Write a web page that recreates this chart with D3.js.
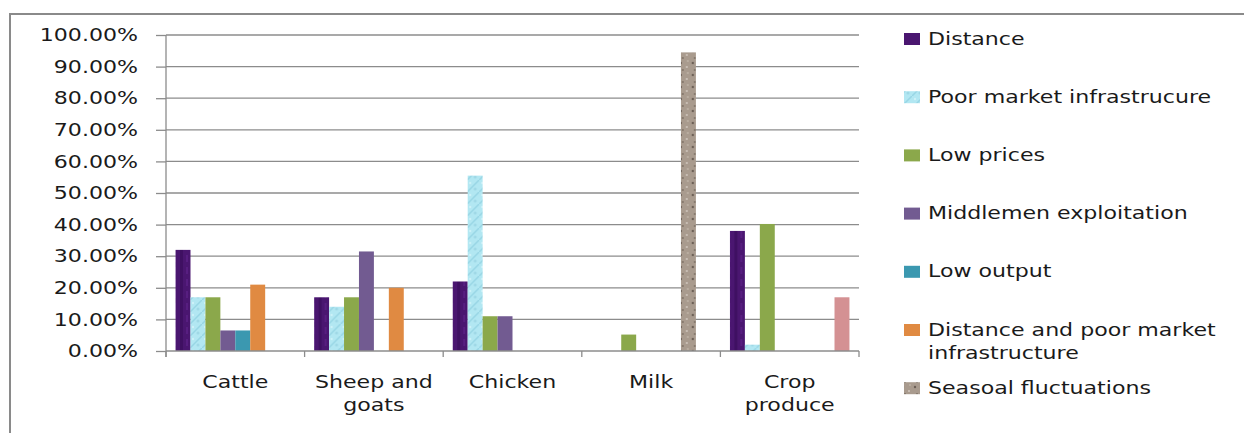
<!DOCTYPE html>
<html><head><meta charset="utf-8">
<script src="https://cdn.jsdelivr.net/npm/d3@7"></script>
<style>
html,body{margin:0;padding:0;background:#fff;}
svg{display:block;}
text{font-family:"DejaVu Sans",Verdana,sans-serif;fill:#1a1a1a;}
</style></head>
<body><svg id="c" width="1244" height="433"></svg>
<script>
// ---- data ----
const categories = ["Cattle", "Sheep and goats", "Chicken", "Milk", "Crop produce"];
const seriesNames = ["Distance", "Poor market infrastrucure", "Low prices", "Middlemen exploitation",
  "Low output", "Distance and poor market infrastructure", "Seasoal fluctuations", "Other"];
const distance      = [0.32, 0.17, 0.22, 0,    0.38];
const poorMarket    = [0.17, 0.14, 0.555, 0,   0.02];
const lowPrices     = [0.17, 0.17, 0.11, 0.052, 0.402];
const middlemen     = [0.065, 0.315, 0.11, 0,  0];
const lowOutput     = [0.065, 0,    0,    0,   0];
const distAndPoor   = [0.21, 0.20, 0,    0,    0];
const seasonal      = [0,    0,    0,    0.945, 0];
const other         = [0,    0,    0,    0,    0.17];
const seriesValues = [distance, poorMarket, lowPrices, middlemen, lowOutput, distAndPoor, seasonal, other];
const yTicks = [0, 0.1, 0.2, 0.3, 0.4, 0.5, 0.6, 0.7, 0.8, 0.9, 1.0];
const legendShown = 7;

// ---- layout ----
const SX = 1.3;          // horizontal text stretch of the original rendering
const FS = 17;
const svg = d3.select("#c");
const plot = {left: 166, right: 859, top: 35, bottom: 351};

// patterns
const defs = svg.append("defs");
function pat(id, base, draw) {
  const p = defs.append("pattern").attr("id", id).attr("patternUnits", "userSpaceOnUse")
    .attr("width", 12).attr("height", 12);
  p.append("rect").attr("width", 12).attr("height", 12).attr("fill", base);
  draw(p);
}
pat("pDist", "#4a1670", p => {
  p.append("rect").attr("x", 2).attr("y", 0).attr("width", 3).attr("height", 12).attr("fill", "#3c0f5f").attr("opacity", 0.8);
  p.append("rect").attr("x", 8).attr("y", 3).attr("width", 2).attr("height", 7).attr("fill", "#5a2184").attr("opacity", 0.8);
});
pat("pPoor", "#b2e7f2", p => {
  p.append("path").attr("d", "M0,12 L12,0").attr("stroke", "#98d6e5").attr("stroke-width", 1.5);
  p.append("circle").attr("cx", 8).attr("cy", 9).attr("r", 1.5).attr("fill", "#9fd8e6");
  p.append("circle").attr("cx", 3).attr("cy", 3).attr("r", 1.2).attr("fill", "#cdf2f9");
});
pat("pSeas", "#a99b8e", p => {
  p.append("circle").attr("cx", 3).attr("cy", 3).attr("r", 1.2).attr("fill", "#6b5e54");
  p.append("circle").attr("cx", 9).attr("cy", 7).attr("r", 1).attr("fill", "#d2c8be");
  p.append("circle").attr("cx", 5).attr("cy", 10).attr("r", 1).attr("fill", "#7d7065");
  p.append("circle").attr("cx", 10).attr("cy", 1).attr("r", 0.8).attr("fill", "#cfc4b8");
});
const fills = ["url(#pDist)", "url(#pPoor)", "#8ba84b", "#725b91", "#3b98b0", "#e08a42", "url(#pSeas)", "#d49193"];
const swatchFills = ["#4a1670", "url(#pPoor)", "#8ba84b", "#725b91", "#3b98b0", "#e08a42", "url(#pSeas)", "#d49193"];

// frame
svg.append("path").attr("d", "M10,433 L10,14 L1244,14").attr("fill", "none")
  .attr("stroke", "#8a8a8a").attr("stroke-width", 2);

// scales
const x0 = d3.scaleBand().domain(categories).range([plot.left, plot.right]).paddingInner(0).paddingOuter(0);
const x1 = d3.scaleBand().domain(d3.range(seriesNames.length)).range([0, x0.bandwidth()])
  .paddingInner(0).paddingOuter(0.64);
const y = d3.scaleLinear().domain([0, 1]).range([plot.bottom, plot.top]);

// gridlines
svg.append("g").selectAll("line").data(yTicks.filter(t => t > 0)).join("line")
  .attr("x1", plot.left).attr("x2", plot.right).attr("y1", d => y(d)).attr("y2", d => y(d))
  .attr("stroke", "#8c8c8c").attr("stroke-width", 1.3);

// y axis
const yAxis = svg.append("g").attr("transform", `translate(${plot.left},0)`)
  .call(d3.axisLeft(y).tickValues(yTicks).tickFormat(d3.format(".2%")).tickSize(10).tickPadding(0));
yAxis.select(".domain").remove();
yAxis.selectAll("line").attr("stroke", "#8c8c8c").attr("stroke-width", 1.3);
yAxis.selectAll("text").each(function(d) {
  const t = d3.select(this);
  t.attr("x", null).attr("dy", null).attr("fill", "#1a1a1a")
    .attr("font-size", FS).attr("font-family", "DejaVu Sans")
    .attr("dominant-baseline", "central").attr("text-anchor", "end")
    .attr("transform", `translate(-28,0) scale(${SX},1)`);
});
svg.append("line").attr("x1", plot.left).attr("x2", plot.left).attr("y1", plot.top).attr("y2", plot.bottom + 6)
  .attr("stroke", "#8c8c8c").attr("stroke-width", 1.3);

// bars
const groups = svg.append("g").selectAll("g").data(categories).join("g")
  .attr("transform", d => `translate(${x0(d)},0)`);
groups.selectAll("rect").data((c, ci) => seriesValues.map((vals, si) => ({si, v: vals[ci]})).filter(d => d.v > 0))
  .join("rect")
  .attr("x", d => x1(d.si)).attr("width", x1.bandwidth())
  .attr("y", d => y(d.v)).attr("height", d => y(0) - y(d.v))
  .attr("fill", d => fills[d.si]);

// x axis
const xAxis = svg.append("g").attr("transform", `translate(0,${plot.bottom})`);
xAxis.append("line").attr("x1", plot.left).attr("x2", plot.right).attr("stroke", "#8c8c8c").attr("stroke-width", 1.3);
xAxis.selectAll(".tk").data(categories.map(c => x0(c)).concat([plot.right])).join("line").attr("class", "tk")
  .attr("x1", d => d).attr("x2", d => d).attr("y1", 0).attr("y2", 6)
  .attr("stroke", "#8c8c8c").attr("stroke-width", 1.3);

// text helpers
function stretchedText(g, str, x, yy, anchor) {
  return g.append("text").attr("font-size", FS).attr("text-anchor", anchor)
    .attr("dominant-baseline", "central")
    .attr("transform", `translate(${x},${yy}) scale(${SX},1)`).text(str);
}
function wrapWords(str, maxW) {
  const tmp = svg.append("text").attr("font-size", FS);
  const words = str.split(" ");
  const lines = [];
  let cur = "";
  words.forEach(w => {
    const test = cur ? cur + " " + w : w;
    tmp.text(test);
    if (tmp.node().getComputedTextLength() * SX > maxW && cur) { lines.push(cur); cur = w; }
    else cur = test;
  });
  lines.push(cur);
  tmp.remove();
  return lines;
}

// category labels
const catG = svg.append("g");
categories.forEach(c => {
  const lines = wrapWords(c, x0.bandwidth() - 10);
  lines.forEach((ln, i) => stretchedText(catG, ln, x0(c) + x0.bandwidth() / 2, 382 + i * 23, "middle"));
});

// legend
const legG = svg.append("g");
seriesNames.slice(0, legendShown).forEach((name, i) => {
  const cy = 39 + i * 58.2;
  legG.append("rect").attr("x", 904).attr("y", cy - 6).attr("width", 16).attr("height", 12)
    .attr("fill", swatchFills[i]);
  const lines = wrapWords(name, 300);
  lines.forEach((ln, j) => stretchedText(legG, ln, 928, cy + j * 23, "start"));
});
</script></body></html>
